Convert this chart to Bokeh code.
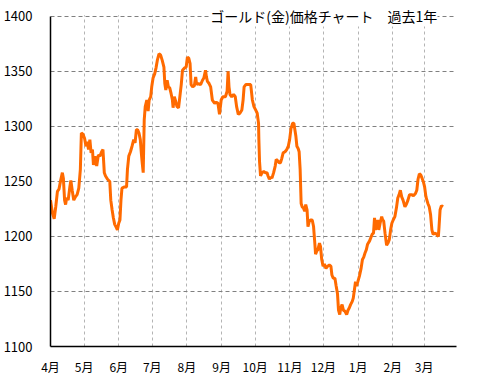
from bokeh.plotting import figure
from bokeh.models import Range1d, FixedTicker, Label, BoxAnnotation
from bokeh.embed import file_html
from bokeh.resources import INLINE

# days since 2016-04-01 and gold price (USD/oz)
days = [0.0, 1.8, 3.3, 4.7, 6.2, 7.6, 9.1, 10.6, 11.5, 12.6, 13.5, 14.4, 15.8, 17.3, 18.2, 19.4,
        20.8, 22.3, 23.8, 25.3, 26.7, 27.6, 29.0, 30.5, 31.7, 32.8, 34.0, 35.2, 36.3, 37.5, 38.4,
        39.8, 41.3, 42.8, 44.2, 45.7, 46.9, 48.1, 49.2, 51.0, 53.0, 53.9, 55.1, 56.2, 57.4, 58.9,
        59.8, 61.0, 62.1, 63.0, 63.9, 66.2, 68.0, 68.8, 70.0, 71.5, 72.9, 74.4, 75.6, 76.8, 77.9,
        79.1, 80.3, 81.2, 82.0, 82.9, 83.8, 84.7, 86.1, 87.3, 88.2, 89.6, 90.5, 91.7, 93.2, 94.3,
        95.5, 97.0, 98.4, 99.9, 101.4, 102.2, 103.1, 104.3, 105.4, 106.6, 107.8, 109.0, 109.6,
        110.7, 111.9, 113.1, 114.5, 116.0, 116.9, 118.0, 119.8, 121.3, 122.4, 123.6, 124.8, 125.7,
        127.1, 128.6, 129.8, 130.7, 132.1, 134.2, 135.9, 137.1, 138.6, 139.4, 140.3, 141.8, 143.2,
        144.7, 146.8, 148.2, 149.7, 151.1, 152.6, 154.1, 156.4, 157.9, 158.8, 159.6, 160.5, 162.0,
        163.7, 165.2, 166.4, 167.9, 169.3, 171.1, 172.2, 173.1, 174.6, 176.9, 179.0, 180.5, 181.9,
        183.4, 184.8, 186.0, 186.3, 186.9, 187.8, 189.2, 190.7, 192.2, 193.6, 194.5, 195.7, 196.8,
        198.0, 199.5, 200.9, 201.8, 203.0, 204.5, 205.6, 206.8, 208.0, 209.7, 211.2, 212.6, 213.8,
        215.0, 216.5, 217.6, 218.5, 219.4, 220.3, 221.4, 222.3, 223.2, 224.1, 225.0, 226.1, 227.3,
        228.2, 229.4, 230.2, 231.4, 232.6, 234.0, 235.2, 236.1, 237.0, 238.2, 239.1, 240.5, 241.4,
        242.5, 243.7, 244.9, 246.3, 247.8, 249.3, 250.7, 251.6, 252.8, 254.3, 255.4, 256.6, 257.5,
        258.6, 259.5, 260.7, 261.9, 263.3, 264.8, 266.0, 267.1, 268.3, 269.8, 270.7, 271.8, 272.7,
        273.6, 274.8, 276.2, 277.7, 278.9, 280.0, 281.2, 282.4, 283.5, 285.3, 287.6, 288.8, 289.7,
        290.5, 291.7, 292.6, 293.5, 294.7, 296.1, 297.0, 297.9, 299.1, 300.5, 301.7, 302.9, 304.1,
        305.2, 306.4, 307.9, 309.3, 310.5, 311.7, 312.8, 314.0, 315.2, 316.9, 318.1, 319.6, 321.0,
        322.8, 324.5, 326.3, 327.5, 328.6, 329.8, 331.0, 332.2, 333.3, 334.5, 335.7, 337.4, 338.6,
        339.8, 341.0, 342.1, 343.9, 345.3, 346.8, 347.4, 348.3, 349.5, 351.0]

price = [1233, 1221, 1216, 1227, 1241, 1243, 1251, 1258, 1253, 1233, 1229, 1235, 1233, 1245, 1251, 1242,
         1233, 1236, 1238, 1244, 1261, 1294, 1293, 1289, 1282, 1286, 1279, 1288, 1276, 1279, 1265,
         1273, 1264, 1274, 1273, 1277, 1279, 1258, 1255, 1252, 1250, 1233, 1224, 1217, 1211, 1208,
         1206, 1212, 1215, 1233, 1244, 1245, 1245, 1261, 1273, 1277, 1282, 1288, 1285, 1297, 1297,
         1294, 1288, 1276, 1267, 1258, 1306, 1318, 1324, 1314, 1324, 1327, 1336, 1344, 1348, 1353,
         1360, 1366, 1365, 1360, 1354, 1339, 1333, 1342, 1336, 1335, 1330, 1324, 1317,
         1327, 1323, 1318, 1317, 1330, 1338, 1351, 1353, 1354, 1363, 1362, 1357, 1338,
         1336, 1337, 1345, 1338, 1339, 1338, 1342, 1344, 1351, 1345, 1341, 1339, 1336,
         1324, 1321, 1322, 1321, 1311, 1324, 1327, 1327, 1332, 1350, 1336, 1329, 1327,
         1329, 1327, 1318, 1311, 1312, 1315, 1324, 1336, 1338, 1338, 1338, 1324, 1318,
         1315, 1312, 1303, 1288, 1268, 1255, 1258, 1259, 1258, 1258, 1255, 1252, 1254,
         1253, 1258, 1264, 1270, 1269, 1267, 1267, 1271, 1276, 1277, 1279, 1282, 1288,
         1298, 1303, 1303, 1297, 1291, 1282, 1280, 1277, 1261, 1230, 1227, 1226, 1223,
         1229, 1224, 1209, 1214, 1215, 1215, 1209, 1197, 1184, 1187, 1188, 1194, 1191,
         1179, 1173, 1175, 1171, 1173, 1174, 1173, 1165, 1162, 1162, 1155, 1148, 1133,
         1129, 1135, 1138, 1133, 1132, 1129, 1133, 1135, 1138, 1141, 1144, 1152, 1159,
         1155, 1159, 1164, 1171, 1179, 1181, 1185, 1188, 1193, 1196, 1202, 1203, 1217,
         1206, 1211, 1215, 1206, 1212, 1218, 1215, 1214, 1203, 1192, 1194, 1197, 1206,
         1212, 1215, 1218, 1226, 1235, 1238, 1242, 1236, 1233, 1227, 1229, 1233, 1238,
         1238, 1237, 1239, 1242, 1252, 1257, 1256, 1253, 1250, 1245, 1236, 1230, 1227,
         1220, 1206, 1202, 1203, 1202, 1200, 1209, 1224, 1228, 1227]

month_starts = [0, 30, 61, 91, 122, 153, 183, 214, 244, 275, 306, 334]
month_labels = ["4月", "5月", "6月", "7月", "8月", "9月", "10月", "11月", "12月", "1月", "2月", "3月"]
y_ticks = [1100, 1150, 1200, 1250, 1300, 1350, 1400]
title_text = "ゴールド(金)価格チャート\u3000過去1年"

p = figure(width=477, height=377, output_backend="svg", toolbar_location=None,
           x_range=Range1d(0, 363), y_range=Range1d(1100, 1409),
           min_border_left=43, min_border_right=21, min_border_top=6, min_border_bottom=25)
p.outline_line_color = None
p.background_fill_color = "white"

p.line(days, price, line_color="#ff6a00", line_width=3)

jp = "Noto Sans CJK JP"
p.xaxis.ticker = FixedTicker(ticks=month_starts)
p.xaxis.major_label_overrides = {m: l for m, l in zip(month_starts, month_labels)}
p.yaxis.ticker = FixedTicker(ticks=y_ticks)
p.yaxis.bounds = (1100, 1400)
for ax in (p.xaxis[0], p.yaxis[0]):
    ax.axis_line_color = "black"
    ax.axis_line_width = 1.5
    ax.major_tick_line_color = None
    ax.minor_tick_line_color = None
    ax.major_label_text_color = "black"
    ax.major_label_text_font = jp
p.xaxis.major_label_text_font_size = "12px"
p.yaxis.major_label_text_font_size = "13px"
p.xaxis.major_label_standoff = 5
p.yaxis.major_label_standoff = 12

p.xgrid.grid_line_color = "#b4b4b4"
p.xgrid.grid_line_dash = "3 3"
p.xgrid.grid_line_width = 1
p.ygrid.grid_line_color = "#808080"
p.ygrid.grid_line_dash = "4 3"
p.ygrid.grid_line_width = 1

# white strip above the 1400 line so the frame looks like it ends there
p.add_layout(BoxAnnotation(bottom=1401, fill_color="white", fill_alpha=1, line_color=None))

lbl = Label(x=346, y=1400, text=title_text, text_align="right", text_baseline="middle",
            text_font=jp, text_font_size="14px", text_color="black",
            background_fill_color="white")
p.add_layout(lbl)

open("out.html", "w").write(file_html(p, INLINE))
